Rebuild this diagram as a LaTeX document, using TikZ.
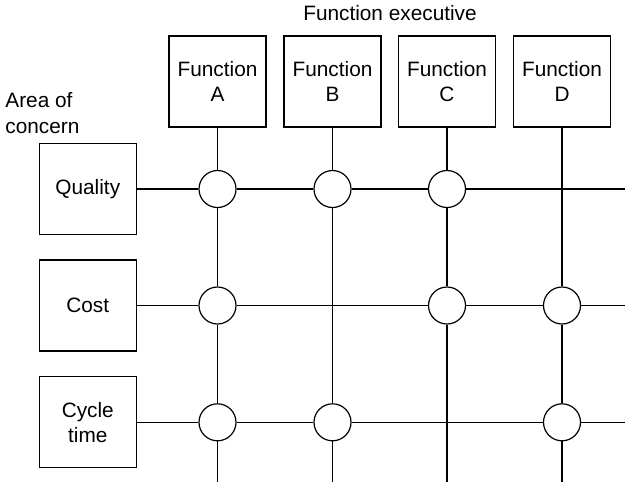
\documentclass[tikz,border=0pt]{standalone}
\usepackage{fontspec}
\setmainfont{Liberation Sans}
\begin{document}
\begin{tikzpicture}[x=0.5pt,y=-0.5pt,
  every node/.style={font=\fontsize{10.4}{12.6}\selectfont},
  fnbox/.style={draw, line width=0.6pt, minimum width=48.5pt, minimum height=45.5pt, align=center, inner sep=0pt},
  hub/.style={draw, circle, line width=0.6pt, minimum size=18.5pt, inner sep=0pt, fill=white},
  link/.style={line width=0.7pt},
  caption/.style={inner sep=0pt}]
\useasboundingbox (0,0) rectangle (625,483);

% headings
\node[caption, anchor=base] (exec) at (390,20) {Function executive};
\node[caption, anchor=west, align=left] (area) at (5,113) {Area of\\concern};

% function boxes
\node[fnbox] (FA) at (217.5,81.5) {Function\\A};
\node[fnbox] (FB) at (332.5,81.5) {Function\\B};
\node[fnbox] (FC) at (447,81.5) {Function\\C};
\node[fnbox] (FD) at (562,81.5) {Function\\D};

% area-of-concern boxes
\node[fnbox] (RQ) at (87.8,189) {Quality};
\node[fnbox] (RC) at (87.8,305.5) {Cost};
\node[fnbox] (RT) at (87.8,422.3) {Cycle\\time};

% hubs
\node[hub] (QA) at (217.5,189) {};
\node[hub] (QB) at (332.5,189) {};
\node[hub] (QC) at (447,189) {};
\node[hub] (CA) at (217.5,305.5) {};
\node[hub] (CC) at (447,305.5) {};
\node[hub] (CD) at (562,305.5) {};
\node[hub] (TA) at (217.5,422.3) {};
\node[hub] (TB) at (332.5,422.3) {};
\node[hub] (TD) at (562,422.3) {};

% free line ends
\coordinate (QE) at (625,189);
\coordinate (CE) at (625,305.5);
\coordinate (TE) at (625,422.3);
\coordinate (AE) at (217.5,482);
\coordinate (BE) at (332.5,482);
\coordinate (CEnd) at (447,482);
\coordinate (DE) at (562,482);

% rows
\draw[link] (RQ) -- (QA) (QA) -- (QB) (QB) -- (QC) (QC) -- (QE);
\draw[link] (RC) -- (CA) (CA) -- (CC) (CC) -- (CD) (CD) -- (CE);
\draw[link] (RT) -- (TA) (TA) -- (TB) (TB) -- (TD) (TD) -- (TE);

% columns
\draw[link] (FA) -- (QA) (QA) -- (CA) (CA) -- (TA) (TA) -- (AE);
\draw[link] (FB) -- (QB) (QB) -- (TB) (TB) -- (BE);
\draw[link] (FC) -- (QC) (QC) -- (CC) (CC) -- (CEnd);
\draw[link] (FD) -- (CD) (CD) -- (TD) (TD) -- (DE);
\end{tikzpicture}
\end{document}
